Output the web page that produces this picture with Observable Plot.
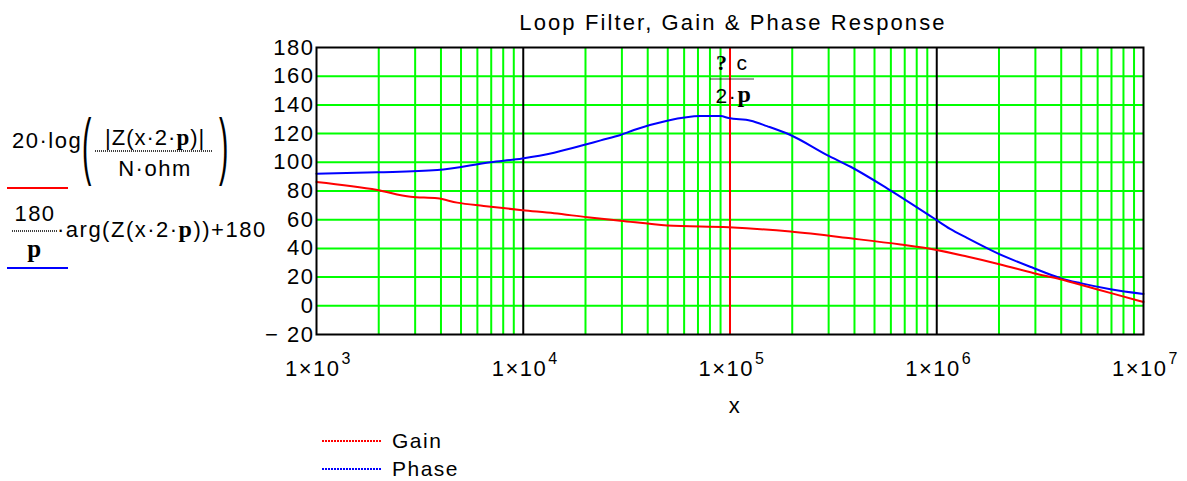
<!DOCTYPE html>
<html><head><meta charset="utf-8">
<script src="https://cdn.jsdelivr.net/npm/d3@7"></script>
<script src="https://cdn.jsdelivr.net/npm/@observablehq/plot@0.6"></script>
<style>body{margin:0;background:#fff;}</style>
</head><body><div id="chart"></div>
<script>
// ---- data ----
const gainFreq = [1e3, 1.97e3, 2.85e3, 3.84e3, 4.79e3, 6.44e3, 9.9e3, 1.41e4, 2.04e4, 2.95e4, 4.97e4, 9.86e4, 1.96e5, 3.83e5, 6.68e5, 9.7e5, 1.40e6, 2.03e6, 2.95e6, 3.96e6, 5.33e6, 7.18e6, 1e7];
const gainDb   = [86.3, 80.7, 76, 74.9, 71.9, 69.6, 66.6, 64.5, 61.7, 59.3, 56, 54.7, 51.7, 47, 42.7, 39.2, 34.3, 28.8, 22.7, 18.5, 13.4, 8.3, 2.6];
const phaseFreq = [1e3, 1.97e3, 3.84e3, 6.95e3, 9.9e3, 1.41e4, 1.96e4, 2.37e4, 2.95e4, 3.43e4, 4.97e4, 7.19e4, 9.0e4, 9.86e4, 1.26e5, 1.51e5, 1.96e5, 2.95e5, 3.83e5, 5.75e5, 9.68e5, 1.16e6, 1.40e6, 1.96e6, 2.95e6, 3.96e6, 4.95e6, 6.92e6, 1e7];
const phaseDeg  = [92, 93, 94.6, 100, 102.7, 106.7, 112, 115.3, 119, 122.5, 129, 132.2, 132.2, 130.8, 129, 125.2, 119, 105, 96.9, 81.9, 61, 53.6, 47.3, 36.7, 26.2, 19.3, 15.8, 11.6, 8.3];
const yTicks = [-20, 0, 20, 40, 60, 80, 100, 120, 140, 160, 180];
const decadeTicks = [1e3, 1e4, 1e5, 1e6, 1e7];
const decadeExp = ["3", "4", "5", "6", "7"];
const markerFreq = 1e5;
const seriesNames = ["Gain", "Phase"];
const title = "Loop Filter, Gain & Phase Response";
const xLabel = "x";

// ---- derived tables ----
const gain = gainFreq.map((f, i) => ({f, v: gainDb[i]}));
const phase = phaseFreq.map((f, i) => ({f, v: phaseDeg[i]}));
const minorX = [];
for (let k = 3; k <= 6; k++) for (let m = 2; m <= 9; m++) minorX.push(m * 10 ** k);
const decTable = decadeTicks.map((d, i) => ({d, e: decadeExp[i]}));

const sans = "'Liberation Sans', Arial, sans-serif";
const serif = "'Liberation Serif', 'Times New Roman', serif";

const plot = Plot.plot({
  width: 1187, height: 481,
  marginLeft: 316, marginRight: 44, marginTop: 47, marginBottom: 147,
  x: {type: "log", domain: [1e3, 1e7], axis: null, label: null},
  y: {domain: [-20, 180], axis: null, label: null},
  style: {fontFamily: sans, fontSize: "22px", color: "#000", background: "#fff", overflow: "visible"},
  marks: [
    Plot.ruleX(minorX, {stroke: "#00ff00", strokeWidth: 2}),
    Plot.ruleY(yTicks.slice(1, -1), {stroke: "#00ff00", strokeWidth: 2}),
    Plot.ruleX(decadeTicks.slice(1, -1), {stroke: "#000", strokeWidth: 2}),
    Plot.ruleX([markerFreq], {stroke: "#ff0000", strokeWidth: 2}),
    Plot.line(phase, {x: "f", y: "v", stroke: "#0000ff", strokeWidth: 2, curve: "monotone-x"}),
    Plot.line(gain, {x: "f", y: "v", stroke: "#ff0000", strokeWidth: 2, curve: "monotone-x"}),
    Plot.frame({stroke: "#000", strokeWidth: 2}),
    Plot.axisY(yTicks, {tickSize: 0, tickPadding: 2, fontSize: 22, label: null,
      tickFormat: d => d < 0 ? "\u2212 " + (-d) : String(d)}),
    Plot.text(decTable, {x: "d", frameAnchor: "bottom", lineAnchor: "middle", text: () => "1\u00d710", textAnchor: "end", dx: 24, dy: 34, fontSize: 22}),
    Plot.text(decTable, {x: "d", frameAnchor: "bottom", lineAnchor: "middle", text: "e", textAnchor: "start", dx: 25, dy: 24, fontSize: 16}),
    Plot.text([xLabel], {frameAnchor: "bottom", lineAnchor: "middle", text: d => d, dx: 5, dy: 71, fontSize: 22}),
    Plot.text([title], {frameAnchor: "top", lineAnchor: "middle", text: d => d, dx: 3, dy: -25, fontSize: 22, className: "ttl"})
  ]
});
plot.style.letterSpacing = "1.5px";
document.getElementById("chart").appendChild(plot);

const svg = d3.select(plot);
svg.selectAll(".ttl text").style("letter-spacing", "2.1px");
const xs = plot.scale("x");
const mx = xs.apply(markerFreq);

// marker label (omega_c / 2*pi as rendered)
const ml = svg.append("g").attr("font-family", sans).attr("font-size", 21).attr("fill", "#000").attr("text-anchor", "start");
ml.append("text").attr("x", mx - 1).attr("y", 70).attr("text-anchor", "end")
  .attr("font-family", serif).attr("font-weight", "bold").attr("font-size", 22).text("?");
ml.append("text").attr("x", mx + 7).attr("y", 70).text("c");
ml.append("line").attr("x1", mx - 19).attr("x2", mx + 24).attr("y1", 79).attr("y2", 79)
  .attr("stroke", "#000").attr("stroke-width", 1.5).attr("stroke-dasharray", "1,1");
ml.append("text").attr("x", mx - 14).attr("y", 103).text("2\u00b7");
ml.append("text").attr("x", mx + 8).attr("y", 102).attr("font-family", serif)
  .attr("font-weight", "bold").attr("font-size", 24).text("p");

// left formula labels
const lf = svg.append("g").attr("font-family", sans).attr("font-size", 22).attr("fill", "#000").attr("text-anchor", "start");
lf.append("text").attr("x", 12).attr("y", 148).text("20\u00b7log");
lf.append("text").attr("transform", "translate(82,171) scale(0.38,1)").attr("font-size", 74).text("(");
lf.append("text").attr("transform", "translate(219,171) scale(0.38,1)").attr("font-size", 74).text(")");
const num = lf.append("text").attr("x", 105).attr("y", 145).style("letter-spacing", "1px");
num.append("tspan").text("|Z(x\u00b72\u00b7");
num.append("tspan").attr("font-family", serif).attr("font-weight", "bold").attr("font-size", 23).text("p");
num.append("tspan").text(")|");
lf.append("line").attr("x1", 95).attr("x2", 213).attr("y1", 151).attr("y2", 151)
  .attr("stroke", "#000").attr("stroke-width", 1.5).attr("stroke-dasharray", "1,1");
lf.append("text").attr("x", 155).attr("y", 176).attr("text-anchor", "middle").text("N\u00b7ohm");
lf.append("line").attr("x1", 7).attr("x2", 68).attr("y1", 188).attr("y2", 188)
  .attr("stroke", "#ff0000").attr("stroke-width", 2);

lf.append("text").attr("x", 35).attr("y", 221).attr("text-anchor", "middle").text("180");
lf.append("line").attr("x1", 12).attr("x2", 57).attr("y1", 231).attr("y2", 231)
  .attr("stroke", "#000").attr("stroke-width", 1.5).attr("stroke-dasharray", "1,1");
lf.append("text").attr("x", 35).attr("y", 257).attr("text-anchor", "middle")
  .attr("font-family", serif).attr("font-weight", "bold").attr("font-size", 25).text("p");
const arg = lf.append("text").attr("x", 57).attr("y", 237);
arg.append("tspan").text("\u00b7arg(Z(x\u00b72\u00b7");
arg.append("tspan").attr("font-family", serif).attr("font-weight", "bold").attr("font-size", 24).text("p");
arg.append("tspan").text("))+180");
lf.append("line").attr("x1", 7).attr("x2", 68).attr("y1", 268).attr("y2", 268)
  .attr("stroke", "#0000ff").attr("stroke-width", 2);

// legend
const lg = svg.append("g").attr("font-family", sans).attr("font-size", 21).attr("fill", "#000").attr("text-anchor", "start");
const legendColors = ["#ff0000", "#0000ff"];
seriesNames.forEach((name, i) => {
  const y = 441 + i * 28;
  lg.append("line").attr("x1", 322).attr("x2", 382).attr("y1", y).attr("y2", y)
    .attr("stroke", legendColors[i]).attr("stroke-width", 2).attr("stroke-dasharray", "2,1");
  lg.append("text").attr("x", 392).attr("y", y + 7).text(name);
});
</script>
</body></html>
